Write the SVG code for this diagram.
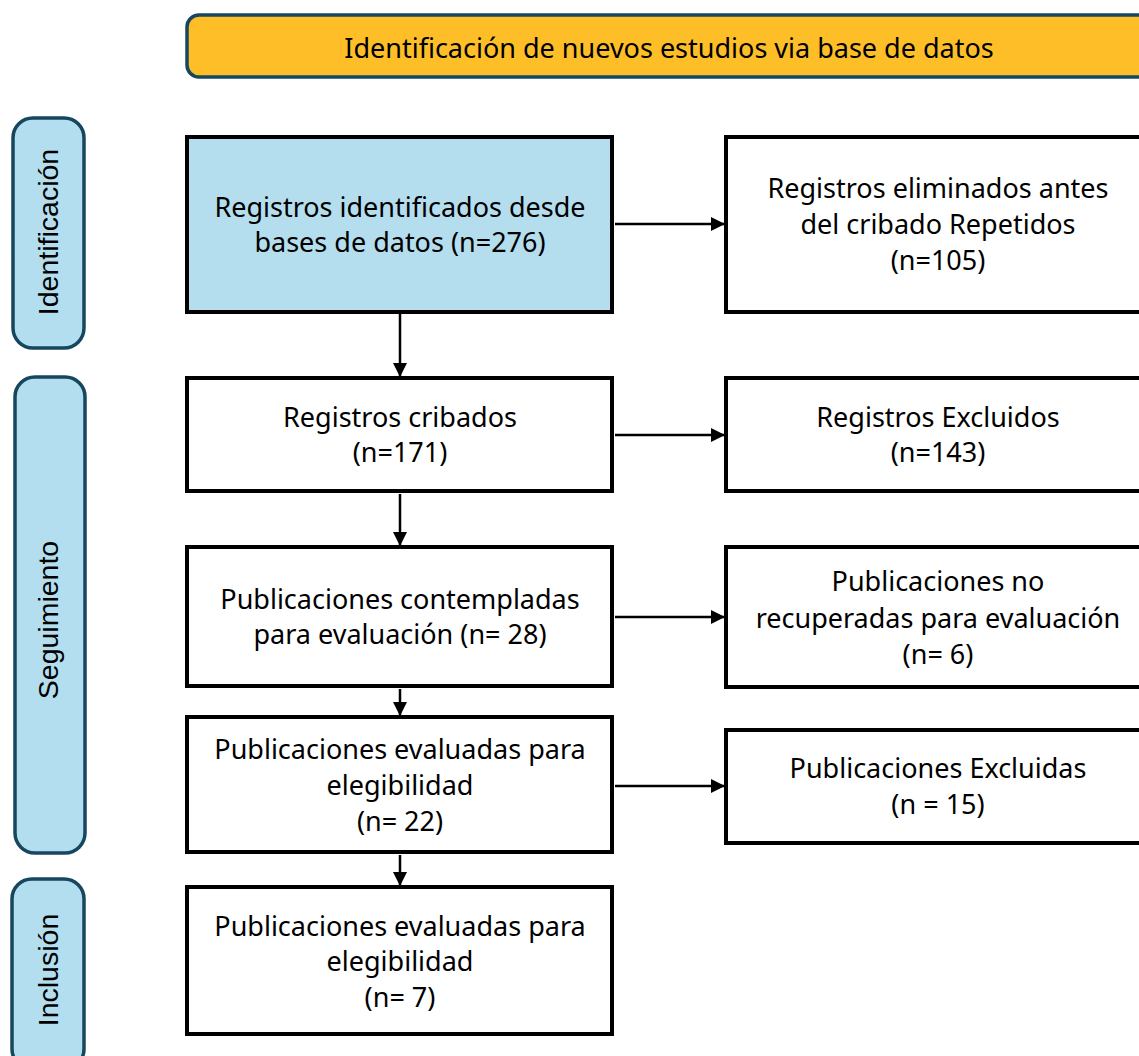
<svg xmlns="http://www.w3.org/2000/svg" width="1139" height="1056" viewBox="0 0 1139 1056">
<style>
  .hdr { fill: #FDBE28; stroke: #17475F; stroke-width: 3.5; }
  .side { fill: #B3DEEF; stroke: #17475F; stroke-width: 3.5; }
  .box { fill: #FFFFFF; stroke: #000000; stroke-width: 4; }
  .blue { fill: #B4DEEE; }
  .t { font-family: "Noto Sans", "Liberation Sans", sans-serif; font-size: 27px; fill: #000000; text-anchor: middle; }
  .st { font-family: "Liberation Sans", Arial, sans-serif; font-size: 28.5px; fill: #000000; text-anchor: middle; }
  .conn { stroke: #000000; stroke-width: 2.5; fill: none; }
</style>
<defs>
  <marker id="arr" markerUnits="userSpaceOnUse" markerWidth="16" markerHeight="16" refX="15" refY="8" orient="auto">
    <path d="M1,1 L15,8 L1,15 Z" fill="#000000"/>
  </marker>
</defs>

<g id="header">
  <rect class="hdr" x="187" y="15" width="966" height="62" rx="12"/>
  <text class="t" x="669" y="58">Identificación de nuevos estudios via base de datos</text>
</g>

<g id="phase-identificacion">
  <rect class="side" x="13" y="118" width="71" height="230" rx="20"/>
  <text class="st" transform="translate(58,232) rotate(-90)">Identificación</text>
</g>
<g id="phase-seguimiento">
  <rect class="side" x="15" y="377" width="70" height="476" rx="20"/>
  <text class="st" transform="translate(58,620) rotate(-90)">Seguimiento</text>
</g>
<g id="phase-inclusion">
  <rect class="side" x="12" y="879" width="72" height="190" rx="20"/>
  <text class="st" transform="translate(58,970) rotate(-90)">Inclusión</text>
</g>

<g id="connectors">
  <line class="conn" x1="400" y1="314" x2="400" y2="377" marker-end="url(#arr)"/>
  <line class="conn" x1="400" y1="494" x2="400" y2="546" marker-end="url(#arr)"/>
  <line class="conn" x1="400" y1="689" x2="400" y2="716" marker-end="url(#arr)"/>
  <line class="conn" x1="400" y1="855" x2="400" y2="886" marker-end="url(#arr)"/>
  <line class="conn" x1="615" y1="224" x2="725" y2="224" marker-end="url(#arr)"/>
  <line class="conn" x1="615" y1="435" x2="725" y2="435" marker-end="url(#arr)"/>
  <line class="conn" x1="615" y1="617" x2="725" y2="617" marker-end="url(#arr)"/>
  <line class="conn" x1="615" y1="786" x2="725" y2="786" marker-end="url(#arr)"/>
</g>

<g id="n1">
  <rect class="box blue" x="187" y="137" width="425" height="175"/>
  <text class="t" x="400" y="217">Registros identificados desde</text>
  <text class="t" x="400" y="252">bases de datos (n=276)</text>
</g>
<g id="n2">
  <rect class="box" x="187" y="378" width="425" height="113"/>
  <text class="t" x="400" y="427">Registros cribados</text>
  <text class="t" x="400" y="462">(n=171)</text>
</g>
<g id="n3">
  <rect class="box" x="187" y="547" width="425" height="139"/>
  <text class="t" x="400" y="609">Publicaciones contempladas</text>
  <text class="t" x="400" y="644">para evaluación (n= 28)</text>
</g>
<g id="n4">
  <rect class="box" x="187" y="717" width="425" height="135"/>
  <text class="t" x="400" y="759">Publicaciones evaluadas para</text>
  <text class="t" x="400" y="795">elegibilidad</text>
  <text class="t" x="400" y="831">(n= 22)</text>
</g>
<g id="n5">
  <rect class="box" x="187" y="887" width="425" height="147"/>
  <text class="t" x="400" y="936">Publicaciones evaluadas para</text>
  <text class="t" x="400" y="971">elegibilidad</text>
  <text class="t" x="400" y="1007">(n= 7)</text>
</g>

<g id="r1">
  <rect class="box" x="726" y="137" width="425" height="175"/>
  <text class="t" x="938" y="198">Registros eliminados antes</text>
  <text class="t" x="938" y="234">del cribado Repetidos</text>
  <text class="t" x="938" y="270">(n=105)</text>
</g>
<g id="r2">
  <rect class="box" x="726" y="378" width="425" height="113"/>
  <text class="t" x="938" y="427">Registros Excluidos</text>
  <text class="t" x="938" y="462">(n=143)</text>
</g>
<g id="r3">
  <rect class="box" x="726" y="547" width="425" height="140"/>
  <text class="t" x="938" y="591">Publicaciones no</text>
  <text class="t" x="938" y="628">recuperadas para evaluación</text>
  <text class="t" x="938" y="664">(n= 6)</text>
</g>
<g id="r4">
  <rect class="box" x="726" y="730" width="425" height="113"/>
  <text class="t" x="938" y="778">Publicaciones Excluidas</text>
  <text class="t" x="938" y="814">(n = 15)</text>
</g>
</svg>
